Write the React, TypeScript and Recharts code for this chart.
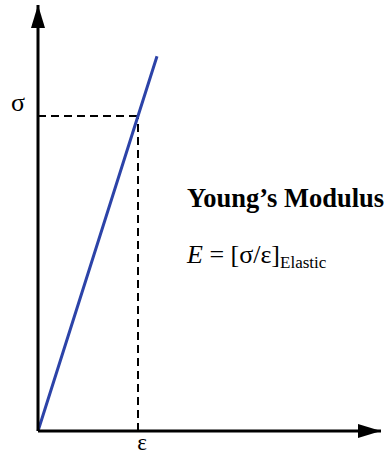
import { LineChart, Line, XAxis, YAxis, ReferenceLine, ReferenceDot } from "recharts";

// strain in %, stress in MPa
const strain = [0, 0.2, 0.238];
const stress = [0, 200, 238];
const strainMax = 0.686;
const stressMax = 270.5;

// point picked off the elastic line
const markStrain = 0.2;
const markStress = 200;

const data = strain.map((e, i) => ({ strain: e, stress: stress[i] }));

const serif = "'Liberation Serif', 'Times New Roman', serif";
const blue = "#2c43a8";

function UpArrow(props: any) {
  const { cx, cy } = props;
  return <polygon points={`${cx},${cy} ${cx - 7},${cy + 23} ${cx + 7},${cy + 23}`} fill="#000" />;
}

function RightArrow(props: any) {
  const { cx, cy } = props;
  return <polygon points={`${cx},${cy} ${cx - 23},${cy - 7} ${cx - 23},${cy + 7}`} fill="#000" />;
}

function EpsTick(props: any) {
  const { x, y } = props;
  return (
    <text x={x + 4} y={y + 11} textAnchor="middle" fontFamily={serif} fontSize={23} fill="#000">
      ε
    </text>
  );
}

function SigmaTick(props: any) {
  const { x, y } = props;
  return (
    <text x={x - 12} y={y - 5} textAnchor="middle" fontFamily={serif} fontSize={26} fill="#000">
      σ
    </text>
  );
}

export default function App() {
  return (
    <div style={{ position: "absolute", left: 0, top: 0, background: "#fff" }}>
      <LineChart
        width={385}
        height={456}
        data={data}
        margin={{ top: 5, right: 4, bottom: 0, left: 8 }}
      >
        <XAxis
          type="number"
          dataKey="strain"
          domain={[0, strainMax]}
          ticks={[markStrain]}
          tick={<EpsTick />}
          tickLine={false}
          axisLine={{ stroke: "#000", strokeWidth: 3 }}
          height={25}
        />
        <YAxis
          type="number"
          dataKey="stress"
          domain={[0, stressMax]}
          ticks={[markStress]}
          tick={<SigmaTick />}
          tickLine={false}
          axisLine={{ stroke: "#000", strokeWidth: 3 }}
          width={30}
        />
        <ReferenceLine
          segment={[{ x: 0, y: markStress }, { x: markStrain, y: markStress }]}
          stroke="#000"
          strokeWidth={2}
          strokeDasharray="8 5"
        />
        <ReferenceLine
          segment={[{ x: markStrain, y: 0 }, { x: markStrain, y: markStress }]}
          stroke="#000"
          strokeWidth={2}
          strokeDasharray="8 5"
        />
        <ReferenceDot x={0} y={stressMax} shape={<UpArrow />} ifOverflow="visible" />
        <ReferenceDot x={strainMax} y={0} shape={<RightArrow />} ifOverflow="visible" />
        <Line
          type="linear"
          dataKey="stress"
          stroke={blue}
          strokeWidth={3}
          dot={false}
          isAnimationActive={false}
        />
        <text x={187} y={207} fontFamily={serif} fontSize={26.5} fontWeight="bold" fill="#000">
          Young’s Modulus
        </text>
        <text x={187} y={263} fontFamily={serif} fontSize={26} fill="#000">
          <tspan fontStyle="italic">E</tspan> = [σ/ε]
          <tspan fontSize={17} dy={5}>Elastic</tspan>
        </text>
      </LineChart>
    </div>
  );
}
